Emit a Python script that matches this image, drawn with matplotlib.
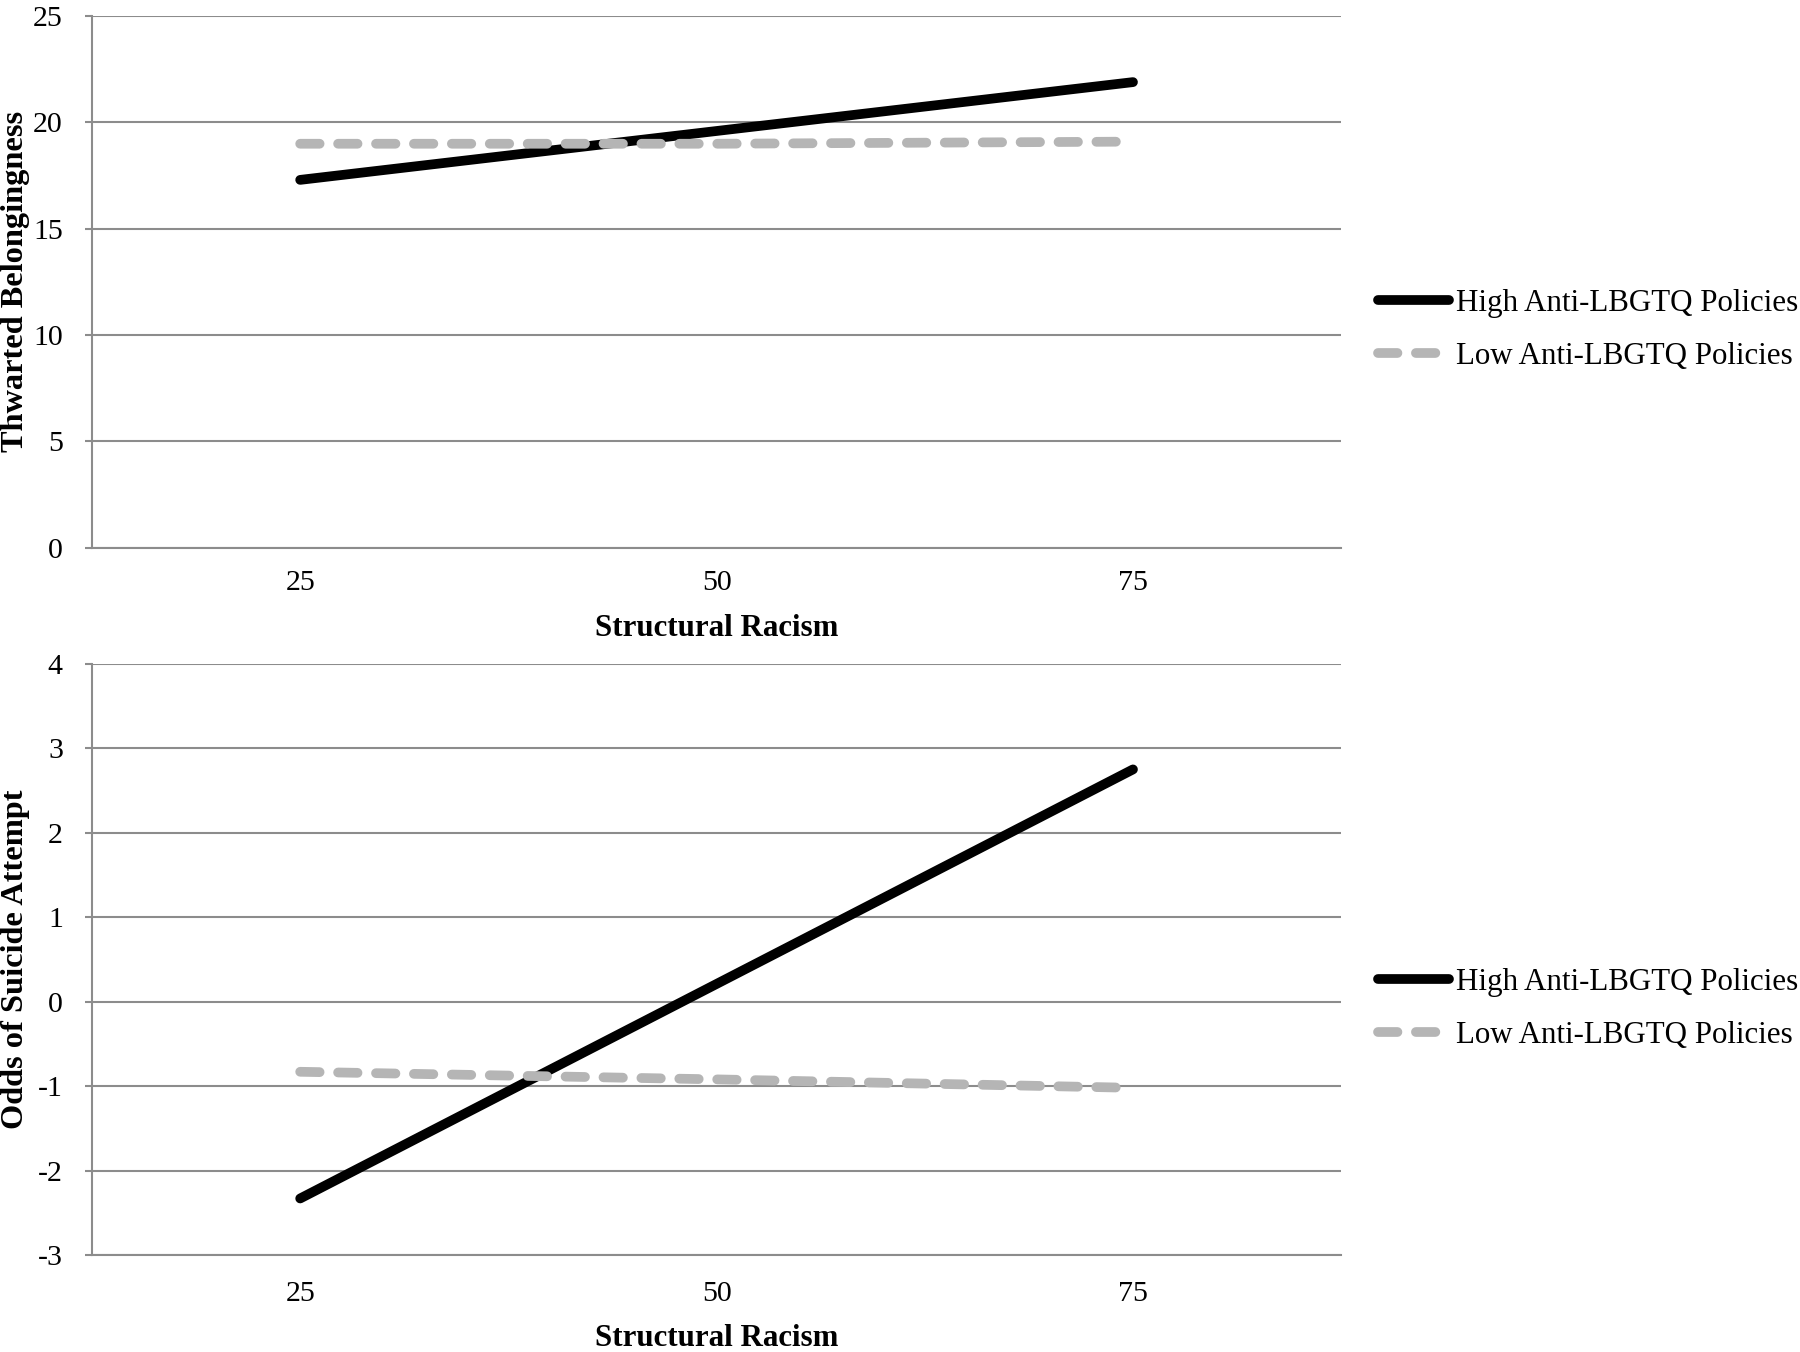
import matplotlib
matplotlib.use("Agg")
import matplotlib.pyplot as plt

# data
racism = ["25", "50", "75"]
belong_high = [17.3, 19.6, 21.9]
belong_low = [19.0, 19.0, 19.1]
odds_high = [-2.33, 0.21, 2.75]
odds_low = [-0.83, -0.92, -1.02]
series_names = ["High Anti-LBGTQ Policies", "Low Anti-LBGTQ Policies"]

plt.rcParams['font.family'] = ['Liberation Serif', 'DejaVu Serif']
plt.rcParams['axes.unicode_minus'] = False
fs = 21.5
grid_col = '#8c8c8c'

fig = plt.figure(figsize=(18, 13.52), dpi=100)
ax1 = fig.add_axes([0.0511, 0.595, 0.694, 0.393])
ax2 = fig.add_axes([0.0511, 0.0717, 0.694, 0.4373])


def draw(ax, high, low, ylim, yticks, ylabel, xpad, xlab_y, leg_y):
    xs = [i + 0.5 for i in range(len(racism))]
    ax.plot(xs, high, color='black', lw=7, solid_capstyle='round',
            label=series_names[0], zorder=3)
    ax.plot(xs, low, color='#b5b5b5', lw=7, dashes=(2.0, 1.9),
            dash_capstyle='round', label=series_names[1], zorder=3)
    ax.set_xlim(0, len(racism))
    ax.set_xticks(xs)
    ax.set_xticklabels(racism)
    ax.set_ylim(*ylim)
    ax.set_yticks(yticks)
    ax.grid(axis='y', color=grid_col, lw=1.5)
    ax.set_axisbelow(True)
    for s in ['top', 'right']:
        ax.spines[s].set_visible(False)
    ax.spines['left'].set_color(grid_col)
    ax.spines['bottom'].set_color(grid_col)
    ax.spines['left'].set_linewidth(1.5)
    ax.spines['bottom'].set_linewidth(1.5)
    ax.tick_params(axis='y', length=5, width=1.5, color=grid_col, pad=16, labelsize=fs)
    ax.tick_params(axis='x', length=0, pad=xpad, labelsize=fs)
    ax.set_xlabel('Structural Racism', fontsize=22.2, fontweight='bold', va='top')
    ax.xaxis.set_label_coords(0.5, xlab_y)
    ax.set_ylabel(ylabel, fontsize=23.3, fontweight='bold')
    ax.yaxis.set_label_coords(-0.0495, 0.5)
    ax.legend(loc='center left', bbox_to_anchor=(1.0296, leg_y), frameon=False,
              fontsize=22.3, handlelength=2.3, handletextpad=0.2,
              labelspacing=0.78, borderpad=0, borderaxespad=0)


draw(ax1, belong_high, belong_low, (0, 25), range(0, 26, 5),
     'Thwarted Belongingness', 16, -0.125, 0.41)
draw(ax2, odds_high, odds_low, (-3, 4), range(-3, 5),
     'Odds of Suicide Attempt', 19, -0.117, 0.416)

fig.savefig('out.png', dpi=100)
